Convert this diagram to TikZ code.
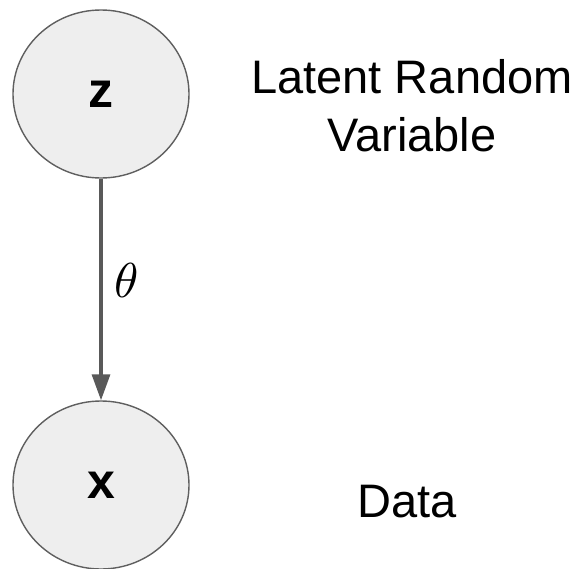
\documentclass[tikz,border=0pt]{standalone}
\usepackage{graphicx}
\usepackage{fontspec}
\setmainfont{Liberation Sans}
\usetikzlibrary{arrows.meta,shapes.geometric}
\definecolor{nodefill}{HTML}{EEEEEE}
\definecolor{nodeline}{HTML}{5F5F5F}
\definecolor{arrowcol}{HTML}{595959}
\begin{document}
\begin{tikzpicture}[x=1pt,y=-1pt,
  varnode/.style={ellipse, draw=nodeline, fill=nodefill, line width=1.4pt,
    minimum width=176pt, minimum height=168pt, inner sep=0pt,
    font=\fontsize{50}{50}\selectfont\bfseries},
  lbl/.style={font=\fontsize{47}{57.7}\selectfont, align=center, text=black},
  edge/.style={draw=arrowcol, line width=3.3pt, -{Triangle[length=26pt,width=18pt]}}
]
\useasboundingbox (0,0) rectangle (584,568);
\node[varnode] (z) at (101,94) {z};
\node[varnode] (x) at (101,485) {x};
\draw[edge] (z) -- node[right, xshift=10pt, yshift=9pt, inner sep=2pt] (theta) {\scalebox{4.9}{$\theta$}} (x);
\node[lbl] (latent) at (412,106) {Latent Random\\Variable};
\node[lbl] (data) at (407.5,502) {Data};
\end{tikzpicture}
\end{document}
